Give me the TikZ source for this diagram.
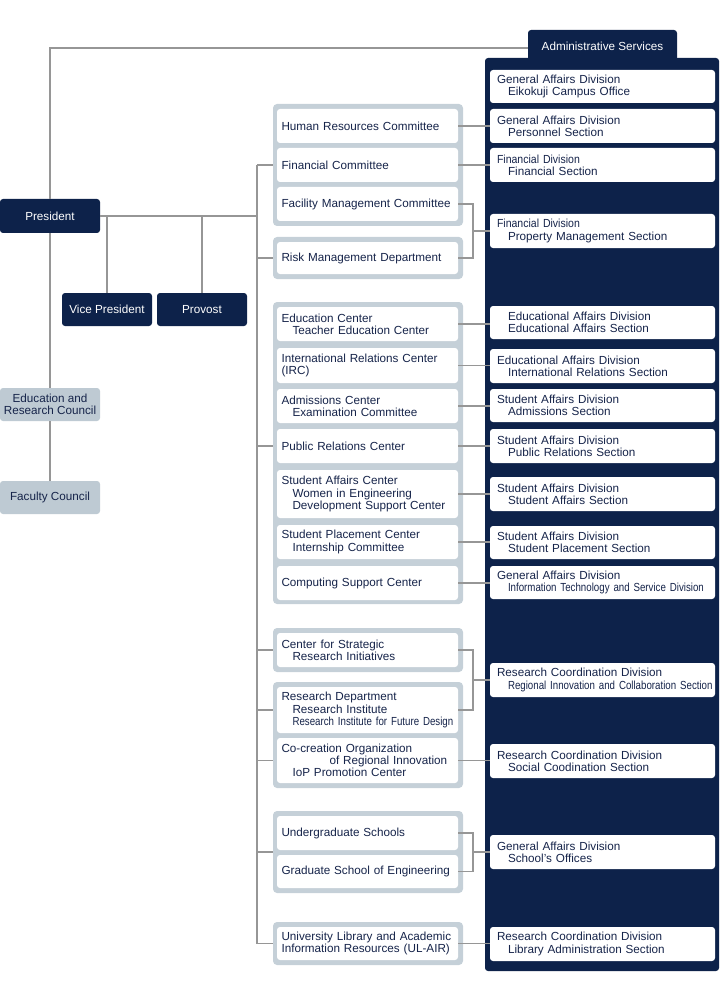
\documentclass[tikz,border=0pt]{standalone}
\usepackage{fontspec}
\setmainfont{Liberation Sans}
\newfontfamily\narrowfont[FakeStretch=0.83]{Liberation Sans}
\newfontfamily\slimfont[FakeStretch=0.9]{Liberation Sans}
\usetikzlibrary{calc}

\definecolor{navy}{RGB}{13,34,74}
\definecolor{framecol}{RGB}{197,208,216}
\definecolor{councilcol}{RGB}{190,202,211}
\definecolor{linkcol}{RGB}{150,150,150}
\definecolor{ink}{RGB}{22,36,74}
\newcommand{\indt}{\hspace*{11pt}}

\begin{document}
\begin{tikzpicture}[x=1pt,y=-1pt,
	every node/.style={font=\fontsize{11.7}{12.3}\selectfont},
	head/.style={fill=navy,text=white,rounded corners=3pt,minimum width=100pt,minimum height=34pt,inner sep=0pt},
	board/.style={fill=councilcol,text=ink,rounded corners=3pt,minimum width=100pt,minimum height=33pt,inner sep=0pt,align=center},
	grp/.style={fill=framecol,rounded corners=4pt,minimum width=190pt,inner sep=0pt},
	unit/.style={fill=white,text=ink,rounded corners=3pt,text width=172pt,inner xsep=4.5pt,inner ysep=0pt,align=left,minimum height=34pt},
	office/.style={fill=white,text=ink,rounded corners=3pt,text width=211pt,inner xsep=7pt,inner ysep=0pt,align=left,minimum height=34pt},
	link/.style={draw=linkcol,line width=1.5pt}]

	\useasboundingbox (0,0) rectangle (720,1000);

	% top management
	\node[head] (pres) at (50,216) {President};
	\node[head,minimum width=90pt,minimum height=33pt] (vp) at (107,309.5) {Vice President};
	\node[head,minimum width=90pt,minimum height=33pt] (prov) at (202,309.5) {Provost};
	\node[board] (erc) at (50,404.5) {Education and\\Research Council};
	\node[board] (fc) at (50,497.5) {Faculty Council};

	% administrative services panel
	\fill[navy,rounded corners=3pt] (485,58) rectangle (719,971);
	\node[head,minimum width=149pt,minimum height=32pt] (admin) at (602.5,46) {Administrative Services};

	% groups
	\node[grp,minimum height=122pt] (g1) at (368,165) {};
	\node[grp,minimum height=42pt] (g2) at (368,258) {};
	\node[grp,minimum height=302pt] (g3) at (368,453) {};
	\node[grp,minimum height=44pt] (g4) at (368,650) {};
	\node[grp,minimum height=106pt] (g5) at (368,735) {};
	\node[grp,minimum height=82pt] (g6) at (368,852) {};
	\node[grp,minimum height=43pt] (g7) at (368,943.5) {};

	% units
	\node[unit] (hr) at (367.5,126) {Human Resources Committee};
	\node[unit] (fin) at (367.5,165) {Financial Committee};
	\node[unit] (fac) at (367.5,204) {Facility Management Committee};
	\node[unit,minimum height=32pt] (risk) at (367.5,258) {Risk Management Department};
	\node[unit] (edu) at (367.5,324) {Education Center\\\indt Teacher Education Center};
	\node[unit,minimum height=35pt] (irc) at (367.5,365.5) {International Relations Center\\(IRC)};
	\node[unit] (adm) at (367.5,406) {Admissions Center\\\indt Examination Committee};
	\node[unit] (pr) at (367.5,446) {Public Relations Center};
	\node[unit,minimum height=48pt] (sac) at (367.5,494) {Student Affairs Center\\\indt Women in Engineering\\\indt Development Support Center};
	\node[unit] (spc) at (367.5,542) {Student Placement Center\\\indt Internship Committee};
	\node[unit] (csc) at (367.5,583) {Computing Support Center};
	\node[unit] (csr) at (367.5,650) {Center for Strategic\\\indt Research Initiatives};
	\node[unit,minimum height=46pt] (rd) at (367.5,710) {Research Department\\\indt Research Institute\\\indt\mbox{\narrowfont Research Institute for Future Design}};
	\node[unit,minimum height=45pt] (cco) at (367.5,760.5) {Co-creation Organization\\\hspace*{48pt}of Regional Innovation\\\indt IoP Promotion Center};
	\node[unit] (ug) at (367.5,833) {Undergraduate Schools};
	\node[unit,minimum height=33pt] (gs) at (367.5,871.5) {Graduate School of Engineering};
	\node[unit,minimum height=33pt] (lib) at (367.5,943.5) {University Library and Academic\\Information Resources (UL-AIR)};

	% offices
	\node[office,minimum height=33pt] (eik) at (602.5,86.5) {General Affairs Division\\\indt Eikokuji Campus Office};
	\node[office] (per) at (602.5,126) {General Affairs Division\\\indt Personnel Section};
	\node[office] (fis) at (602.5,165) {{\slimfont Financial Division}\\\indt Financial Section};
	\node[office] (pms) at (602.5,231) {{\slimfont Financial Division}\\\indt Property Management Section};
	\node[office,minimum height=33pt] (eas) at (602.5,322.5) {\indt Educational Affairs Division\\\indt Educational Affairs Section};
	\node[office] (irs) at (602.5,366) {Educational Affairs Division\\\indt International Relations Section};
	\node[office,minimum height=33pt] (ads) at (602.5,405.5) {Student Affairs Division\\\indt Admissions Section};
	\node[office] (prs) at (602.5,446) {Student Affairs Division\\\indt Public Relations Section};
	\node[office] (sas) at (602.5,494) {Student Affairs Division\\\indt Student Affairs Section};
	\node[office,minimum height=33pt] (sps) at (602.5,542.5) {Student Affairs Division\\\indt Student Placement Section};
	\node[office,minimum height=33pt] (its) at (602.5,582.5) {General Affairs Division\\\indt\mbox{\narrowfont Information Technology and Service Division}};
	\node[office] (ric) at (602.5,680) {Research Coordination Division\\\indt\mbox{\narrowfont Regional Innovation and Collaboration Section}};
	\node[office] (scs) at (602.5,761) {Research Coordination Division\\\indt Social Coodination Section};
	\node[office] (sof) at (602.5,852) {General Affairs Division\\\indt School’s Offices};
	\node[office] (las) at (602.5,944) {Research Coordination Division\\\indt Library Administration Section};

	% lines from the president
	\draw[link] (pres.north) |- ([yshift=-2pt]admin.west);
	\draw[link] (pres.south) -- (erc.north);
	\draw[link] (erc.south) -- (fc.north);
	\coordinate (tr1) at (257,165);
	\coordinate (tr2) at (257,943.5);
	\draw[link] (pres.east) -- (pres.east -| tr1);
	\draw[link] (vp.north) -- (vp.north |- pres.east);
	\draw[link] (prov.north) -- (prov.north |- pres.east);
	\draw[link] (tr1) -- (tr2);
	\foreach \u/\g in {fin/g1,risk/g2,pr/g3,csr/g4,rd/g5,cco/g5,g6/g6,lib/g7}
		\draw[link] (tr1 |- \u) -- (\g.west |- \u);

	% lines to the offices
	\foreach \u/\o in {hr/per,fin/fis,edu/eas,irc/irs,adm/ads,pr/prs,sac/sas,spc/sps,csc/its,cco/scs,lib/las}
		\draw[link] (\u.east) -- (\o.west |- \u.east);

	\coordinate (j1) at (473,231);
	\coordinate (j2) at (473,680);
	\coordinate (j3) at (473,852);
	\draw[link] (fac.east) -| (j1) |- (risk.east);
	\draw[link] (j1) -- (pms.west);
	\draw[link] (csr.east) -| (j2) |- (rd.east);
	\draw[link] (j2) -- (ric.west);
	\draw[link] (ug.east) -| (j3) |- (gs.east);
	\draw[link] (j3) -- (sof.west);

\end{tikzpicture}
\end{document}
